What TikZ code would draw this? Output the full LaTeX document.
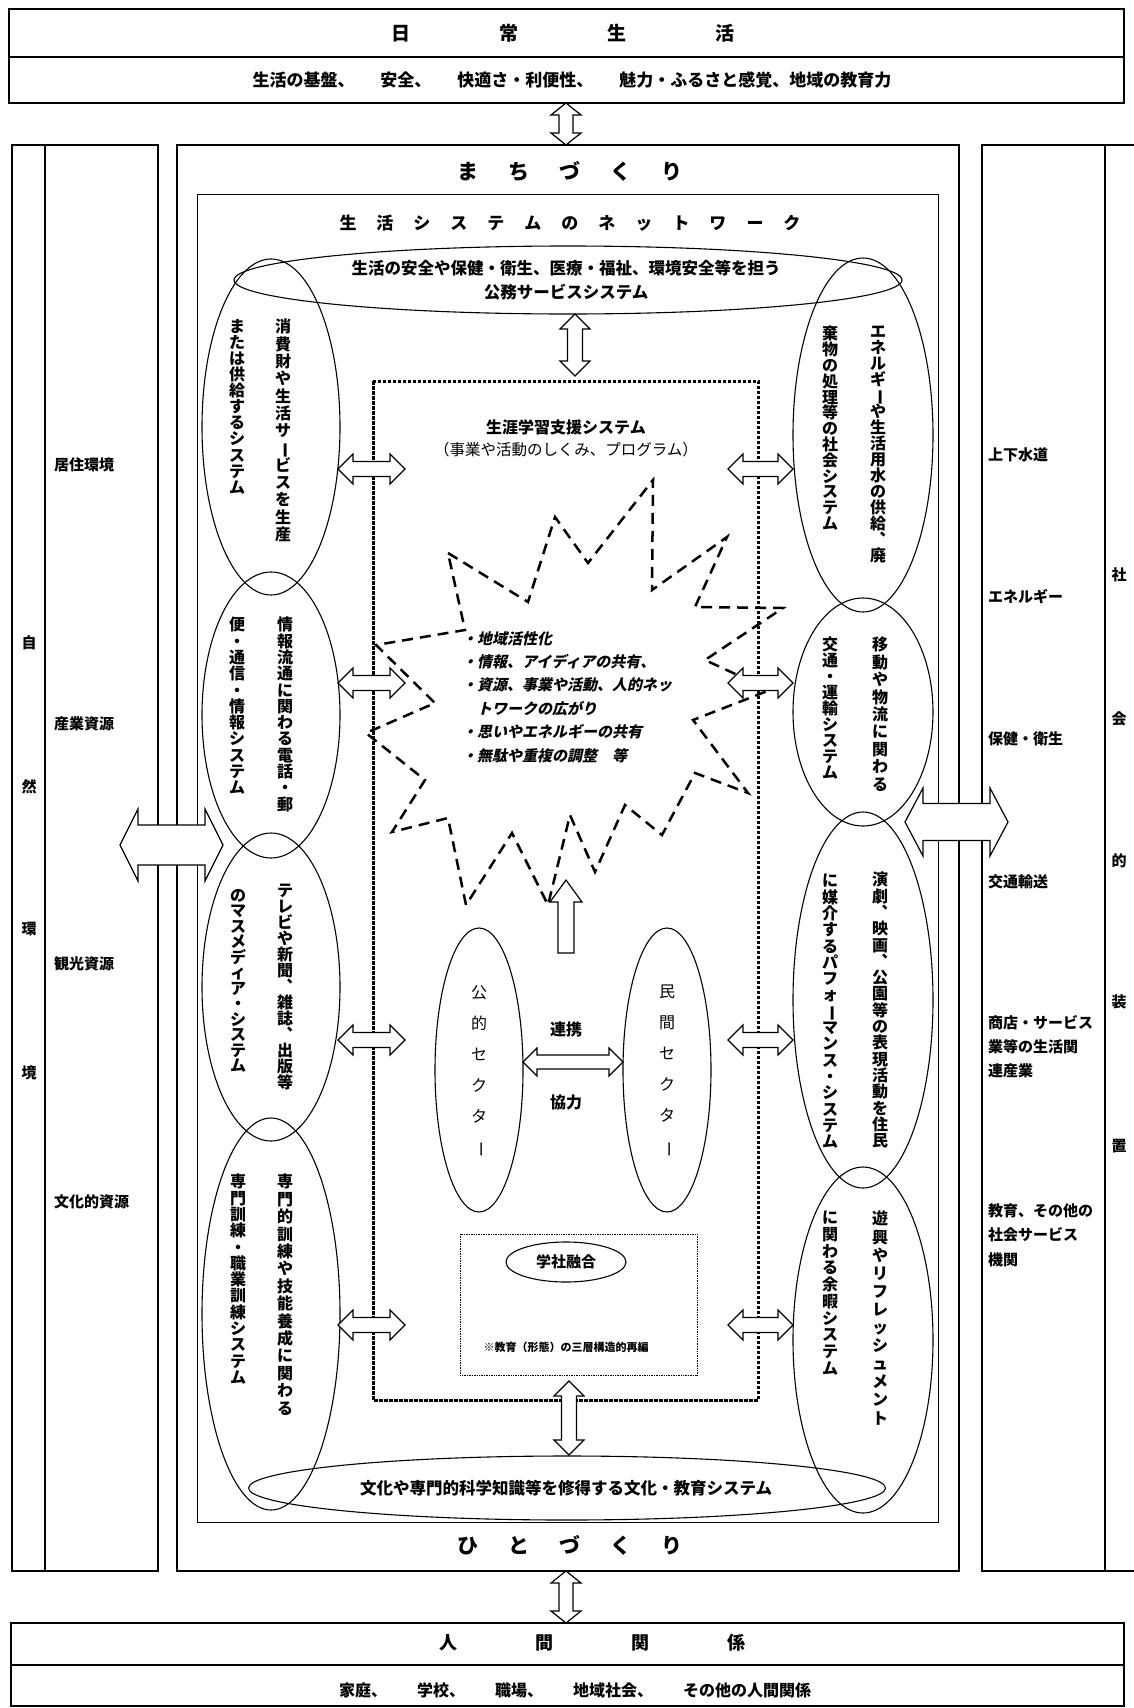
\documentclass[tikz,border=0pt]{standalone}
\usepackage{fontspec}
\usepackage{graphicx}
\setmainfont{Noto Sans CJK JP}
\newfontfamily\jpsl{Noto Sans CJK JP}[FakeSlant=0.22]
\usetikzlibrary{shapes.geometric}
\newcommand\fsz[1]{\fontsize{#1}{#1}\selectfont}
\newcommand\vch{\rotatebox[origin=c]{-90}{ー}}
\makeatletter
\newcommand\tate[2][16.8pt]{\vbox{\baselineskip=#1\lineskip=0pt\lineskiplimit=-\maxdimen
  \tate@loop#2\relax}}
\def\tate@loop#1{\ifx\relax#1\else\hbox to 1.1em{\hss#1\hss}\expandafter\tate@loop\fi}
\makeatother
% name, cx, cy, rotation, half length, shaft half width, head half width, head length
\newcommand\blockarr[8]{%
  \begin{scope}[shift={(#2,#3)}, rotate=#4]
  \draw[arrsty] (-#5,0) -- (-#5+#8,-#7) -- (-#5+#8,-#6) -- (#5-#8,-#6) -- (#5-#8,-#7)
    -- (#5,0) -- (#5-#8,#7) -- (#5-#8,#6) -- (-#5+#8,#6) -- (-#5+#8,#7) -- cycle;
  \coordinate (#1) at (0,0);
  \end{scope}}
\begin{document}
\begin{tikzpicture}[x=1pt,y=-1pt,
  frame/.style={draw, line width=1.2pt},
  ell/.style={ellipse, draw, line width=1.1pt, inner sep=0pt},
  txt/.style={inner sep=0pt, font=\bfseries\fsz{16}},
  vt/.style={anchor=north, inner sep=0pt, font=\bfseries\fsz{16}},
  arrsty/.style={draw, fill=white, line width=1.2pt, line join=miter},
  stardash/.style={line width=2.5pt, dash pattern=on 11pt off 7pt, line join=miter},
  dotbox/.style={line width=3pt, dash pattern=on 3.5pt off 1.5pt},
]
\useasboundingbox (0,0) rectangle (1133,1708);
\fill[white] (0,0) rectangle (1133,1708);

% ---------- frames ----------
\draw[frame] (9,9) rectangle (1124,103);
\draw[frame] (9,57) -- (1124,57);
\draw[frame] (12,145) rectangle (158,1571);
\draw[frame] (45,145) -- (45,1571);
\draw[frame] (982,145) rectangle (1140,1571);
\draw[frame] (1105,145) -- (1105,1571);
\draw[frame] (177,145) rectangle (959,1571);
\draw[frame, line width=1pt] (197,194) rectangle (938,1522);
\draw[frame] (11,1623) rectangle (1124,1706);
\draw[frame] (11,1665) -- (1124,1665);

% ---------- ellipses ----------
\node[ell, minimum width=668pt, minimum height=68pt] (topE) at (568,280) {};
\node[ell, minimum width=637pt, minimum height=64pt] (botE) at (567,1488) {};
\node[ell, minimum width=138pt, minimum height=336pt] (L1) at (271,427) {};
\node[ell, minimum width=138pt, minimum height=286pt] (L2) at (271,715) {};
\node[ell, minimum width=138pt, minimum height=308pt] (L3) at (271,987) {};
\node[ell, minimum width=138pt, minimum height=392pt] (L4) at (271,1314) {};
\node[ell, minimum width=140pt, minimum height=354pt] (R1) at (863,435) {};
\node[ell, minimum width=140pt, minimum height=228pt] (R2) at (863,712) {};
\node[ell, minimum width=140pt, minimum height=376pt] (R3) at (863,1000) {};
\node[ell, minimum width=140pt, minimum height=346pt] (R4) at (863,1340) {};
\node[ell, minimum width=88pt, minimum height=284pt] (pub) at (479,1070) {};
\node[ell, minimum width=88pt, minimum height=284pt] (priv) at (667,1070) {};

% ---------- dotted inner box ----------
\draw[dotbox] (373,381) rectangle (758,1400);

% ---------- star ----------
\draw[stardash] (448,553) -- (528,602) -- (555,517) -- (588,563) -- (653,480)
  -- (652,590) -- (727,537) -- (695,607) -- (783,608) -- (705,660) -- (770,690)
  -- (693,720) -- (748,793) -- (695,773) -- (662,835) -- (625,805) -- (595,872)
  -- (570,815) -- (548,905) -- (512,833) -- (466,905) -- (448,818) -- (392,832)
  -- (425,780) -- (366,733) -- (435,703) -- (376,645) -- (465,630) -- cycle;

% ---------- gakusha box ----------
\draw[densely dotted, line width=0.7pt] (460,1234) rectangle (697,1375);
\node[ell, minimum width=120pt, minimum height=40pt, font=\bfseries\fsz{15}] (gs) at (566,1262) {学社融合};
\node[txt, font=\bfseries\fsz{11}] (gsn) at (566,1347) {※教育（形態）の三層構造的再編};

% ---------- block arrows ----------
\blockarr{aTop}{566}{124}{90}{21}{7}{15}{12}
\blockarr{aBot}{566}{1597}{90}{26}{7}{15}{12}
\blockarr{aLeft}{171.5}{845}{0}{51.5}{20}{36}{18}
\blockarr{aRight}{956.5}{822}{0}{51.5}{18.5}{34}{18}
\blockarr{al1}{371.5}{469}{0}{33.5}{7.5}{15}{15}
\blockarr{al2}{371.5}{683}{0}{33.5}{7.5}{15}{15}
\blockarr{al3}{371.5}{1040}{0}{33.5}{7.5}{15}{15}
\blockarr{al4}{371.5}{1325}{0}{33.5}{7.5}{15}{15}
\blockarr{ar1}{760.5}{469}{0}{32.5}{7.5}{15}{15}
\blockarr{ar2}{760.5}{683}{0}{32.5}{7.5}{15}{15}
\blockarr{ar3}{760.5}{1040}{0}{32.5}{7.5}{15}{15}
\blockarr{ar4}{760.5}{1325}{0}{32.5}{7.5}{15}{15}
\blockarr{aNet}{575}{345}{90}{31}{7.5}{15}{15}
\blockarr{aEdu}{569}{1418}{90}{37}{7.5}{15}{15}
\blockarr{aSec}{573}{1062}{0}{50}{7}{14}{14}
\draw[arrsty] (566,880) -- (582,902) -- (574,902) -- (574,953) -- (558,953) -- (558,902) -- (550,902) -- cycle;
\coordinate (aUp) at (566,916);

% ---------- texts: top / bottom ----------
\node[txt, font=\bfseries\fsz{19}] (t1) at (563,33) {日\hspace{89pt}常\hspace{89pt}生\hspace{89pt}活};
\node[txt, font=\bfseries\fsz{17}] (t2) at (572,80) {生活の基盤、\hspace{26pt}安全、\hspace{26pt}快適さ・利便性、\hspace{26pt}魅力・ふるさと感覚、地域の教育力};
\node[txt, font=\bfseries\fsz{21}] (mz) at (570,171) {ま\hspace{30pt}ち\hspace{30pt}づ\hspace{30pt}く\hspace{30pt}り};
\node[txt, font=\bfseries\fsz{21}] (hz) at (570,1545) {ひ\hspace{30pt}と\hspace{30pt}づ\hspace{30pt}く\hspace{30pt}り};
\node[txt, font=\bfseries\fsz{17}] (net) at (570,223) {生\hspace{20pt}活\hspace{20pt}シ\hspace{20pt}ス\hspace{20pt}テ\hspace{20pt}ム\hspace{20pt}の\hspace{20pt}ネ\hspace{20pt}ッ\hspace{20pt}ト\hspace{20pt}ワ\hspace{20pt}ー\hspace{20pt}ク};
\node[txt, font=\bfseries\fsz{18}] (b1) at (592,1643) {人\hspace{78pt}間\hspace{78pt}関\hspace{78pt}係};
\node[txt] (b2) at (575,1690) {家庭、\hspace{30pt}学校、\hspace{30pt}職場、\hspace{30pt}地域社会、\hspace{30pt}その他の人間関係};

\node[txt, font=\bfseries\fsz{16.5}] (te1) at (566,268) {生活の安全や保健・衛生、医療・福祉、環境安全等を担う};
\node[txt, font=\bfseries\fsz{16.5}] (te2) at (566,292) {公務サービスシステム};
\node[txt, font=\bfseries\fsz{16.5}] (be1) at (566,1488) {文化や専門的科学知識等を修得する文化・教育システム};

\node[txt] (sg1) at (566,427) {生涯学習支援システム};
\node[txt, font=\fsz{15.5}] (sg2) at (566,450) {（事業や活動のしくみ、プログラム）};

\node[anchor=north west, inner sep=0pt, align=left, font=\jpsl\bfseries\fontsize{15}{23.4}\selectfont] (bul) at (462,631)
 {・地域活性化\\・情報、アイディアの共有、\\・資源、事業や活動、人的ネッ\\　トワークの広がり\\・思いやエネルギーの共有\\・無駄や重複の調整　等};

\node[txt] (lk1) at (566,1029) {連携};
\node[txt] (lk2) at (566,1102) {協力};

% ---------- vertical texts in ellipses ----------
\node[vt] (l1a) at (283,319) {\tate[17.3pt]{消費財や生活サ\vch ビスを生産}};
\node[vt] (l1b) at (237,319) {\tate[16.1pt]{または供給するシステム}};
\node[vt] (l2a) at (285,617) {\tate[16.3pt]{情報流通に関わる電話・郵}};
\node[vt] (l2b) at (237,617) {\tate[16.3pt]{便・通信・情報システム}};
\node[vt] (l3a) at (285,884) {\tate[16pt]{テレビや新聞︑雑誌︑出版等}};
\node[vt] (l3b) at (238,889) {\tate[15.5pt]{のマスメディア・システム}};
\node[vt] (l4a) at (285,1174) {\tate[17.4pt]{専門的訓練や技能養成に関わる}};
\node[vt] (l4b) at (238,1174) {\tate[16.3pt]{専門訓練・職業訓練システム}};
\node[vt] (r1a) at (878,326) {\tate[16pt]{エネルギ\vch や生活用水の供給︑廃}};
\node[vt] (r1b) at (830,326) {\tate[15.8pt]{棄物の処理等の社会システム}};
\node[vt] (r2a) at (880,637) {\tate[17.4pt]{移動や物流に関わる}};
\node[vt] (r2b) at (830,637) {\tate[16pt]{交通・運輸システム}};
\node[vt] (r3a) at (880,872) {\tate[16.3pt]{演劇︑映画︑公園等の表現活動を住民}};
\node[vt] (r3b) at (830,874) {\tate[16.3pt]{に媒介するパフォ\vch マンス・システム}};
\node[vt] (r4a) at (880,1211) {\tate[18.1pt]{遊興やリフレッシュメント}};
\node[vt] (r4b) at (830,1211) {\tate[16.7pt]{に関わる余暇システム}};
\node[vt, font=\fsz{16}] (pubt) at (479,985) {\tate[31pt]{公的セクタ\vch}};
\node[vt, font=\fsz{16}] (privt) at (667,985) {\tate[31pt]{民間セクタ\vch}};

% ---------- side columns ----------
\foreach \ch/\yy/\nm in {自/643/1,然/787/2,環/929/3,境/1073/4}
  \node[txt, font=\bfseries\fsz{15}] (sl\nm) at (29,\yy) {\ch};
\foreach \ch/\yy/\nm in {社/575/1,会/719/2,的/861/3,装/1002/4,置/1146/5}
  \node[txt, font=\bfseries\fsz{15}] (sr\nm) at (1119,\yy) {\ch};
\foreach \tx/\yy/\nm in {居住環境/465/1,産業資源/724/2,観光資源/964/3,文化的資源/1202/4}
  \node[txt, font=\bfseries\fsz{15}, anchor=west] (ll\nm) at (54,\yy) {\tx};
\foreach \tx/\yy/\nm in {上下水道/455/1,エネルギー/597/2,保健・衛生/739/3,交通輸送/882/4}
  \node[txt, font=\bfseries\fsz{15}, anchor=west] (rl\nm) at (988,\yy) {\tx};
\node[txt, font=\bfseries\fontsize{15}{24}\selectfont, anchor=north west, align=left] (rl5) at (988,1015) {商店・サービス\\業等の生活関\\連産業};
\node[txt, font=\bfseries\fontsize{15}{24.5}\selectfont, anchor=north west, align=left] (rl6) at (988,1203) {教育、その他の\\社会サービス\\機関};
\end{tikzpicture}
\end{document}
